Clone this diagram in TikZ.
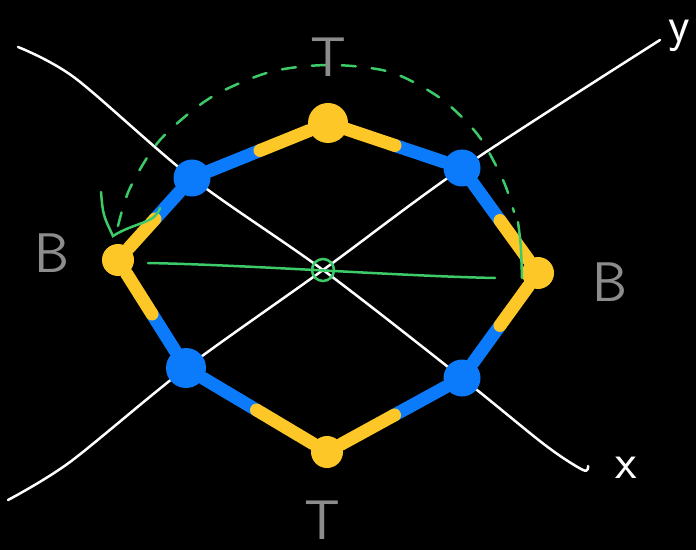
\documentclass[tikz,border=0pt]{standalone}
\usepackage{tikz}
\usetikzlibrary{calc}
\definecolor{sketchYellow}{HTML}{FDC827}
\definecolor{sketchBlue}{HTML}{0B7BFC}
\definecolor{sketchGreen}{HTML}{3DCB68}
\definecolor{labelGray}{HTML}{8C8C8C}

\begin{document}
\begin{tikzpicture}[x=1bp,y=-1bp,
    axis/.style={white,line width=2.5bp,line cap=round,line join=round},
    tpoint/.style={circle,fill=sketchYellow,minimum size=32bp,inner sep=0pt},
    bpoint/.style={circle,fill=sketchBlue,minimum size=37bp,inner sep=0pt},
    bhalf/.style={sketchBlue,line width=13bp,line cap=round},
    thalf/.style={sketchYellow,line width=13bp,line cap=round},
    guide/.style={sketchGreen,line width=2.5bp,line cap=round},
    letter/.style={labelGray,inner sep=0pt,font=\sffamily\fontsize{56}{56}\selectfont},
    axislabel/.style={white,inner sep=0pt,font=\sffamily\fontsize{50}{50}\selectfont}]
    \fill[black] (0,0) rectangle (696,550);
    % axes
    \draw[axis] plot[smooth] coordinates {(18,47) (75,78) (192,178) (323,270) (462,378) (545,445) (583,470) (588,466)};
    \draw[axis] plot[smooth] coordinates {(8,500) (70,462) (186,368) (323,270) (462,168) (660,40)};
    % points of the loop
    \node[tpoint,minimum width=40bp] (ytop) at (328,123) {};
    \node[tpoint] (yright) at (538,273) {};
    \node[tpoint] (ybot) at (327,452) {};
    \node[tpoint] (yleft) at (118,260) {};
    \node[bpoint] (bnw) at (192,178) {};
    \node[bpoint] (bne) at (462,168) {};
    \node[bpoint,minimum size=40bp] (bsw) at (186,368) {};
    \node[bpoint] (bse) at (462,378) {};
    \foreach \b/\t in {bnw/ytop,bne/ytop,bne/yright,bse/yright,bse/ybot,bsw/ybot,bsw/yleft,bnw/yleft}{
      \draw[bhalf] (\b) -- ($(\b)!0.5!(\t)$);
      \draw[thalf] ($(\b)!0.5!(\t)$) -- (\t);
    }
    % green guide
    \node[circle,draw=sketchGreen,line width=2.5bp,minimum width=18bp,minimum height=22bp,inner sep=0pt] (origin) at (323,270) {};
    \draw[guide] (148,263) .. controls (250,265) and (400,276) .. (495,278);
    \draw[guide,dash pattern=on 14bp off 16bp] plot[smooth] coordinates {(118,226) (130,188) (160,140) (210,98) (270,72) (330,65) (390,72) (440,98) (478,135) (503,180) (514,212)};
    \draw[guide] (518,222) .. controls (521,245) .. (522,278);
    \draw[guide] (101,192) .. controls (103,215) .. (113,236) .. controls (135,222) and (155,224) .. (160,208);
    % labels
    \node[letter] (ltop) at (328,57) {T};
    \node[letter] (lbot) at (322,520) {T};
    \node[letter] (lleft) at (52,253) {B};
    \node[letter] (lright) at (610,282) {B};
    \node[axislabel] (lx) at (626,468) {x};
    \node[axislabel] (ly) at (679,36) {y};
\end{tikzpicture}
\end{document}
